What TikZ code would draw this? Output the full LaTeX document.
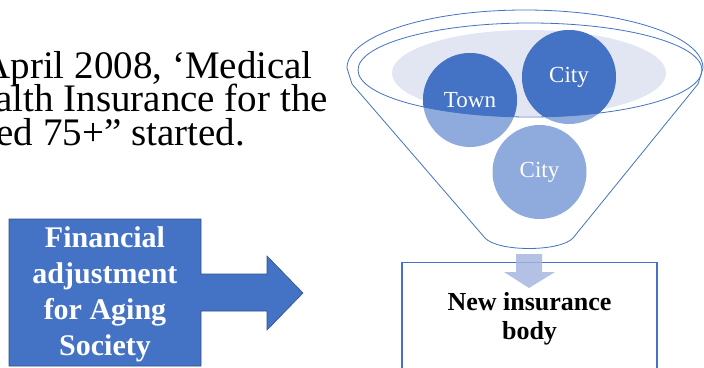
\documentclass[tikz,border=0pt]{standalone}
\usepackage{fontspec}
\setmainfont{Liberation Serif}
\definecolor{deepblue}{HTML}{4472C4}
\definecolor{paleblue}{HTML}{8FAADC}
\definecolor{mistblue}{HTML}{E1E6F2}
\definecolor{edgeblue}{HTML}{2F528F}
\definecolor{dropblue}{HTML}{A4B6DF}
\begin{document}
\begin{tikzpicture}[x=1pt, y=-1pt,
    ball/.style={circle, fill=paleblue, minimum size=94pt, inner sep=0pt, text=white,
                 font=\fontsize{23}{25}\selectfont,
                 path picture={\fill[deepblue] (rim) ellipse [x radius=172pt, y radius=47pt];}},
    rimline/.style={draw=deepblue, line width=0.8pt},
    bigtext/.style={font=\fontsize{39}{33}\selectfont, anchor=base east, inner sep=0pt},
    body/.style={draw=deepblue, line width=1.3pt, minimum width=255pt, minimum height=112pt,
                 align=center, font=\bfseries\fontsize{26}{29}\selectfont}
]
    \clip (0,0) rectangle (704,367);

    % heading text, cut at the left edge
    \node[bigtext] (line1) at (313,78) {April 2008, ‘Medical};
    \node[bigtext] (line2) at (328,111) {alth Insurance for the};
    \node[bigtext] (line3) at (245,145) {ed 75+” started.};

    % funnel
    \coordinate (rim) at (530,70);
    \draw[rimline, fill=white] (347,68) arc[start angle=180, end angle=0, x radius=178pt, y radius=58pt]
        -- (698,84) -- (573,238) .. controls (560,252) and (498,252) .. (485,238) -- (352,84) -- cycle;
    \fill[mistblue] (529,73) ellipse [x radius=137pt, y radius=43pt];
    \node[ball] (town) at (470,100) {Town};
    \node[ball] (cityA) at (569,77) {City};
    \node[ball] (cityB) at (539.5,172) {City};
    \draw[rimline] (rim) ellipse [x radius=172pt, y radius=47pt];

    % result box
    \node[body, anchor=north] (newbody) at (529.5,262) {New insurance\\body};
    \fill[dropblue, opacity=0.85] (516,254) -- (542,254) -- (542,272) -- (555,272) -- (529,288)
        -- (504,272) -- (516,272) -- cycle;

    % block arrow
    \fill[deepblue, draw=edgeblue, line width=0.6pt] (9,219) -- (201,219) -- (201,274) -- (267,274)
        -- (267,256) -- (303,293) -- (267,330) -- (267,311) -- (201,311) -- (201,366) -- (9,366) -- cycle;
    \node[text=white, align=center, font=\bfseries\fontsize{30}{36}\selectfont] (adjust) at (105,294)
        {Financial\\adjustment\\for Aging\\Society};
\end{tikzpicture}
\end{document}
